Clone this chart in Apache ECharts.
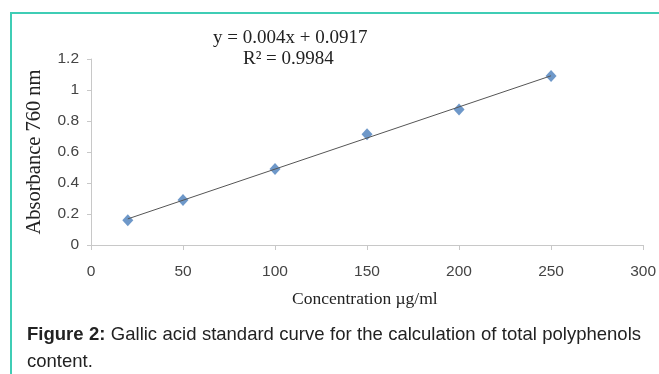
<!DOCTYPE html>
<html>
<head>
<meta charset="utf-8">
<script src="https://cdn.jsdelivr.net/npm/echarts@6/dist/echarts.min.js"></script>
<style>
  html, body { margin: 0; padding: 0; background: #fff; }
  #wrap { position: relative; width: 659px; height: 374px; overflow: hidden; }
  #frame { position: absolute; left: 10px; top: 12px; width: 700px; height: 400px;
    border-top: 2px solid #3fcdb5; border-left: 2px solid #3fcdb5; }
  #chart { position: absolute; left: 0; top: 0; width: 659px; height: 374px; }
  #caption { position: absolute; left: 27px; top: 320px; width: 614px;
    font-family: "Liberation Sans", Arial, sans-serif; font-size: 18.5px; line-height: 27px;
    color: #222; }
  #caption .l1 { text-align: justify; text-align-last: justify; white-space: nowrap; }
</style>
</head>
<body>
<div id="wrap">
  <div id="frame"></div>
  <div id="chart"></div>
  <div id="caption">
    <div class="l1"><b>Figure 2:</b> Gallic acid standard curve for the calculation of total polyphenols</div>
    <div>content.</div>
  </div>
</div>
<script>
// values
const concentration = [20, 50, 100, 150, 200, 250];
const absorbance = [0.16, 0.29, 0.49, 0.715, 0.875, 1.09];
const equationText = "y = 0.004x + 0.0917";
const r2Text = "R\u00b2 = 0.9984";

// least-squares trendline through the points
const n = concentration.length;
const mx = concentration.reduce((a, b) => a + b, 0) / n;
const my = absorbance.reduce((a, b) => a + b, 0) / n;
let sxy = 0, sxx = 0;
concentration.forEach((x, i) => { sxy += (x - mx) * (absorbance[i] - my); sxx += (x - mx) * (x - mx); });
const slope = sxy / sxx;
const intercept = my - slope * mx;
const xFirst = concentration[0], xLast = concentration[n - 1];
const trend = [[xFirst, slope * xFirst + intercept], [xLast, slope * xLast + intercept]];

const serif = "'Liberation Serif', 'Times New Roman', serif";
const sans = "'Liberation Sans', Arial, sans-serif";

var chart = echarts.init(document.getElementById("chart"));
chart.setOption({
  animation: false,
  grid: { left: 91, right: 12, top: 59, bottom: 129 },
  xAxis: {
    type: "value", min: 0, max: 300, interval: 50,
    axisLine: { lineStyle: { color: "#c8c8c8" } },
    axisTick: { show: true, length: 5, lineStyle: { color: "#c8c8c8" } },
    axisLabel: { color: "#444", fontFamily: sans, fontSize: 15.5, margin: 19 },
    splitLine: { show: false },
  },
  yAxis: {
    type: "value", min: 0, max: 1.2, interval: 0.2,
    name: "Absorbance 760 nm", nameLocation: "middle", nameRotate: 90, nameGap: 46,
    nameTextStyle: { fontFamily: serif, fontSize: 20.5, color: "#222" },
    axisLine: { show: true, lineStyle: { color: "#c8c8c8" } },
    axisTick: { show: true, length: 4, lineStyle: { color: "#c8c8c8" } },
    axisLabel: { color: "#444", fontFamily: sans, fontSize: 15.5, margin: 12 },
    splitLine: { show: false },
  },
  graphic: [
    { type: "text", left: 213, top: 29, style: { text: equationText, font: "19px " + serif, fill: "#222" } },
    { type: "text", left: 243, top: 50, style: { text: r2Text, font: "19px " + serif, fill: "#222" } },
    { type: "text", left: 292, top: 290, style: { text: "Concentration \u00b5g/ml", font: "17.5px " + serif, fill: "#222" } },
  ],
  series: [
    {
      type: "scatter", data: concentration.map((x, i) => [x, absorbance[i]]),
      symbol: "diamond", symbolSize: [11, 12],
      itemStyle: { color: "#4a7ebb" }, z: 2,
    },
    {
      type: "line", data: trend, showSymbol: false, symbol: "none",
      lineStyle: { color: "#555", width: 1 }, z: 3,
    },
  ],
});
</script>
</body>
</html>
